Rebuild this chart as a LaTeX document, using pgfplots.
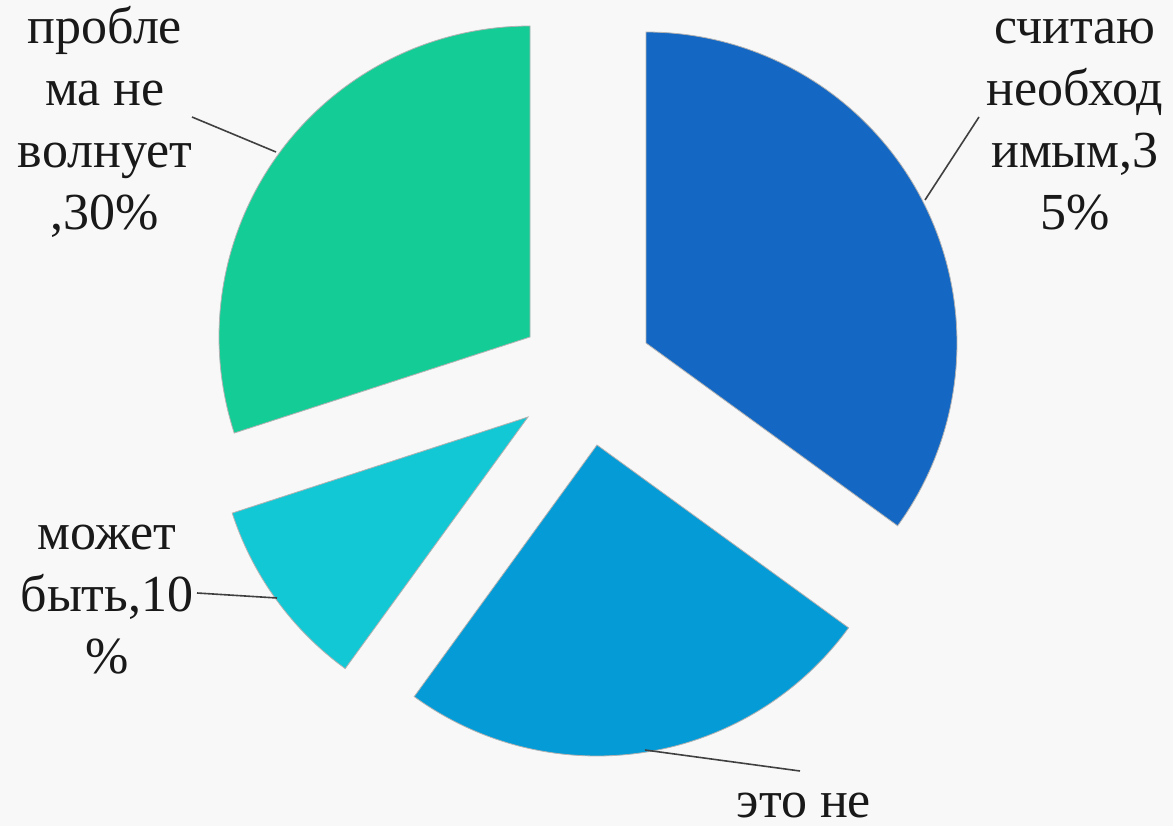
\documentclass[border=0pt]{standalone}
\usepackage{fontspec}
\setmainfont{Liberation Serif}
\usepackage{pgfplots}
\pgfplotsset{compat=1.18}
\definecolor{cBlue}{HTML}{1467C2}
\definecolor{cMid}{HTML}{059BD7}
\definecolor{cCyan}{HTML}{12C8D4}
\definecolor{cGreen}{HTML}{14CD96}
\definecolor{bg}{HTML}{F8F8F8}
% values (percent), clockwise from 12 o'clock
\def\vA{35}\def\vB{25}\def\vC{10}\def\vD{30}
\def\R{311}
\begin{document}
\begin{tikzpicture}
\begin{axis}[width=586.5pt,height=413pt,scale only axis,
  xmin=0,xmax=1173,ymin=0,ymax=826,axis lines=none,ticks=none,clip=false]
\fill[bg] (axis cs:0,0) rectangle (axis cs:1173,826);
% slices
\addplot[fill=cBlue,draw=gray!60,line width=0.4pt,domain={90-3.6*\vA}:90,samples=90]
  ({646+\R*cos(x)},{483+\R*sin(x)}) -- (axis cs:646,483) -- cycle;
\addplot[fill=cMid,draw=gray!60,line width=0.4pt,domain={90-3.6*(\vA+\vB)}:{90-3.6*\vA},samples=90]
  ({597+\R*cos(x)},{381+\R*sin(x)}) -- (axis cs:597,381) -- cycle;
\addplot[fill=cCyan,draw=gray!60,line width=0.4pt,domain={90-3.6*(\vA+\vB+\vC)}:{90-3.6*(\vA+\vB)},samples=60]
  ({528+\R*cos(x)},{409+\R*sin(x)}) -- (axis cs:528,409) -- cycle;
\addplot[fill=cGreen,draw=gray!60,line width=0.4pt,domain={90-3.6*(\vA+\vB+\vC+\vD)}:{90-3.6*(\vA+\vB+\vC)},samples=90]
  ({530+\R*cos(x)},{489+\R*sin(x)}) -- (axis cs:530,489) -- cycle;
% leader lines
\addplot[draw=black!75,line width=0.8pt] coordinates {(192,709) (276,674)};
\addplot[draw=black!75,line width=0.8pt] coordinates {(979,709) (925,626)};
\addplot[draw=black!75,line width=0.8pt] coordinates {(197,233) (277,228)};
\addplot[draw=black!75,line width=0.8pt] coordinates {(645,76) (800,55)};
% labels (anchor = baseline of the last line)
\begin{scope}[every node/.style={font=\fontsize{26}{31}\selectfont,align=center,inner sep=0pt,anchor=base,text=black!90}]
\node at (axis cs:105,596) {пробле\\ма не\\волнует\\,30\%};
\node at (axis cs:1075,596) {считаю\\необход\\имым,3\\5\%};
\node at (axis cs:107,153) {может\\быть,10\\\%};
\node at (axis cs:804,9) {это не};
\end{scope}
\end{axis}
\end{tikzpicture}
\end{document}
